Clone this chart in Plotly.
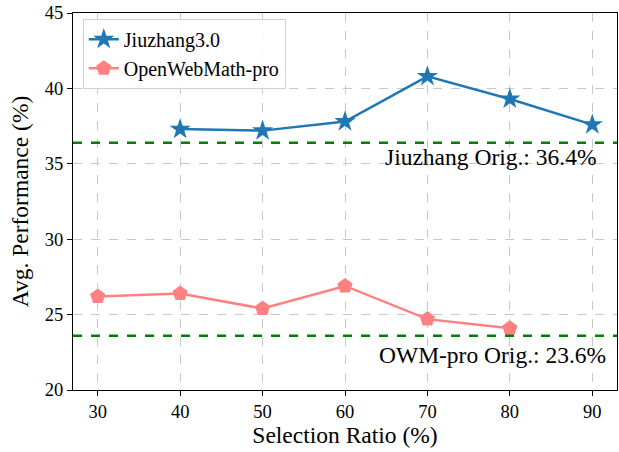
import plotly.graph_objects as go

ratios_j = [40, 50, 60, 70, 80, 90]
jiuzhang = [37.3, 37.2, 37.8, 40.8, 39.3, 37.6]
ratios_o = [30, 40, 50, 60, 70, 80]
owm = [26.2, 26.4, 25.4, 26.9, 24.7, 24.1]
jiuzhang_orig = 36.4
owm_orig = 23.6
x_ticks = [30, 40, 50, 60, 70, 80, 90]
y_ticks = [20, 25, 30, 35, 40, 45]

FONT = "Liberation Serif, Times New Roman, serif"

fig = go.Figure()
fig.add_trace(go.Scatter(x=ratios_j, y=jiuzhang, mode="lines+markers", name="Jiuzhang3.0",
                         line=dict(color="#1f77b4", width=2.5),
                         marker=dict(symbol="star", size=16, color="#1f77b4")))
fig.add_trace(go.Scatter(x=ratios_o, y=owm, mode="lines+markers", name="OpenWebMath-pro",
                         line=dict(color="#ff8080", width=2.5),
                         marker=dict(symbol="pentagon", size=16, color="#ff8080")))

for v in (jiuzhang_orig, owm_orig):
    fig.add_shape(type="line", xref="paper", x0=0, x1=1, yref="y", y0=v, y1=v,
                  line=dict(color="green", width=2.5, dash="dash"))

fig.add_annotation(x=90.7, y=35.45, xref="x", yref="y", text=f"Jiuzhang Orig.: {jiuzhang_orig}%",
                   showarrow=False, xanchor="right", yanchor="middle",
                   font=dict(family=FONT, size=23.5, color="black"))
fig.add_annotation(x=91.9, y=22.35, xref="x", yref="y", text=f"OWM-pro Orig.: {owm_orig}%",
                   showarrow=False, xanchor="right", yanchor="middle",
                   font=dict(family=FONT, size=23.5, color="black"))

axis_common = dict(showline=True, linecolor="black", linewidth=1.2, mirror=True,
                   ticks="outside", ticklen=5, tickcolor="black",
                   showgrid=True, gridcolor="#c8c8c8", griddash="dash", gridwidth=1,
                   zeroline=False, tickfont=dict(family=FONT, size=18.5, color="black"))

fig.update_xaxes(range=[27, 93], tickvals=x_ticks,
                 title=dict(text="Selection Ratio (%)", font=dict(family=FONT, size=23.5, color="black"), standoff=4),
                 **axis_common)
fig.update_yaxes(range=[20, 45], tickvals=y_ticks,
                 title=dict(text="Avg. Performance (%)", font=dict(family=FONT, size=23.5, color="black"), standoff=9),
                 **axis_common)

fig.update_layout(
    width=619, height=452,
    margin=dict(l=73, r=2, t=13, b=62),
    plot_bgcolor="white", paper_bgcolor="white",
    showlegend=True,
    legend=dict(x=0.018, y=0.985, xanchor="left", yanchor="top",
                bgcolor="rgba(255,255,255,0.8)", bordercolor="#d0d0d0", borderwidth=1,
                font=dict(family=FONT, size=20, color="black"), tracegroupgap=0),
)

fig.write_html("out.html", config={"displayModeBar": False},
               post_script="document.body.style.margin='0';document.body.style.overflow='hidden';")
